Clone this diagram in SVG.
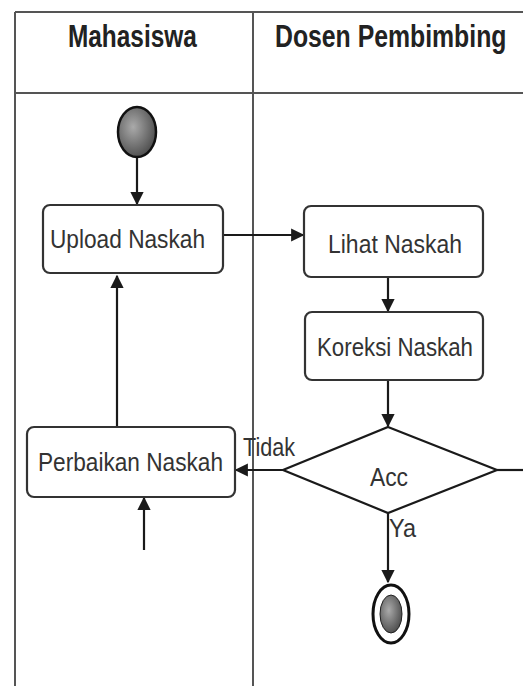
<svg xmlns="http://www.w3.org/2000/svg" width="523" height="686" viewBox="0 0 523 686">
<style>
.frame{stroke:#555;stroke-width:2;fill:none}
.box{fill:#fff;stroke:#333;stroke-width:2.2}
.lbl{font-family:"Liberation Sans",Arial,sans-serif;font-size:26px;fill:#333}
.ttl{font-family:"Liberation Sans",Arial,sans-serif;font-size:31px;font-weight:bold;fill:#222}
.edge{stroke:#1a1a1a;stroke-width:2.2;fill:none}
</style>
<defs>
<marker id="arr" viewBox="0 0 10 10" refX="9" refY="5" markerWidth="6" markerHeight="6" orient="auto" markerUnits="strokeWidth">
<path d="M0,0 L10,5 L0,10 z" fill="#1a1a1a"/>
</marker>
<radialGradient id="g" cx="0.4" cy="0.4" r="0.7">
<stop offset="0" stop-color="#aaa"/>
<stop offset="1" stop-color="#444"/>
</radialGradient>
</defs>
<rect width="523" height="686" fill="#fff"/>
<g id="lanes">
<line class="frame" x1="15" y1="12" x2="523" y2="12"/>
<line class="frame" x1="15" y1="12" x2="15" y2="686"/>
<line class="frame" x1="253" y1="12" x2="253" y2="686"/>
<line class="frame" x1="15" y1="93" x2="523" y2="93"/>
<text class="ttl" transform="translate(68,47) scale(0.787,1)" x="0" y="0">Mahasiswa</text>
<text class="ttl" transform="translate(275,47) scale(0.80,1)" x="0" y="0">Dosen Pembimbing</text>
</g>
<g id="connectors">
<line class="edge" x1="137" y1="157" x2="137" y2="204" marker-end="url(#arr)"/>
<line class="edge" x1="223" y1="235" x2="303" y2="235" marker-end="url(#arr)"/>
<line class="edge" x1="388" y1="277" x2="388" y2="311" marker-end="url(#arr)"/>
<line class="edge" x1="388" y1="380" x2="388" y2="426" marker-end="url(#arr)"/>
<line class="edge" x1="283" y1="470" x2="236" y2="470" marker-end="url(#arr)"/>
<line class="edge" x1="497" y1="470" x2="523" y2="470"/>
<line class="edge" x1="388" y1="513" x2="388" y2="582" marker-end="url(#arr)"/>
<line class="edge" x1="117" y1="427" x2="117" y2="276" marker-end="url(#arr)"/>
<line class="edge" x1="144" y1="550" x2="144" y2="498" marker-end="url(#arr)"/>
<text class="lbl" x="243" y="456" textLength="52" lengthAdjust="spacingAndGlyphs">Tidak</text>
<text class="lbl" x="389" y="537" textLength="27" lengthAdjust="spacingAndGlyphs">Ya</text>
</g>
<g id="start">
<ellipse cx="137" cy="132" rx="19" ry="25" fill="url(#g)" stroke="#111" stroke-width="2.5"/>
</g>
<g id="upload">
<rect class="box" x="43" y="205" width="180" height="68" rx="7"/>
<text class="lbl" x="50" y="248" textLength="155" lengthAdjust="spacingAndGlyphs">Upload Naskah</text>
</g>
<g id="lihat">
<rect class="box" x="304" y="206" width="179" height="71" rx="7"/>
<text class="lbl" x="328" y="253" textLength="134" lengthAdjust="spacingAndGlyphs">Lihat Naskah</text>
</g>
<g id="koreksi">
<rect class="box" x="305" y="312" width="178" height="68" rx="7"/>
<text class="lbl" x="317" y="356" textLength="156" lengthAdjust="spacingAndGlyphs">Koreksi Naskah</text>
</g>
<g id="acc">
<polygon points="388,427 497,470 388,513 283,470" fill="#fff" stroke="#1a1a1a" stroke-width="2.2"/>
<text class="lbl" x="370" y="486" textLength="38" lengthAdjust="spacingAndGlyphs">Acc</text>
</g>
<g id="perbaikan">
<rect class="box" x="27" y="427" width="208" height="70" rx="7"/>
<text class="lbl" x="38" y="471" textLength="185" lengthAdjust="spacingAndGlyphs">Perbaikan Naskah</text>
</g>
<g id="end">
<ellipse cx="391" cy="614" rx="18" ry="29" fill="#fff" stroke="#111" stroke-width="3"/>
<ellipse cx="391" cy="614" rx="11" ry="19" fill="url(#g)" stroke="#222" stroke-width="1"/>
</g>
</svg>
